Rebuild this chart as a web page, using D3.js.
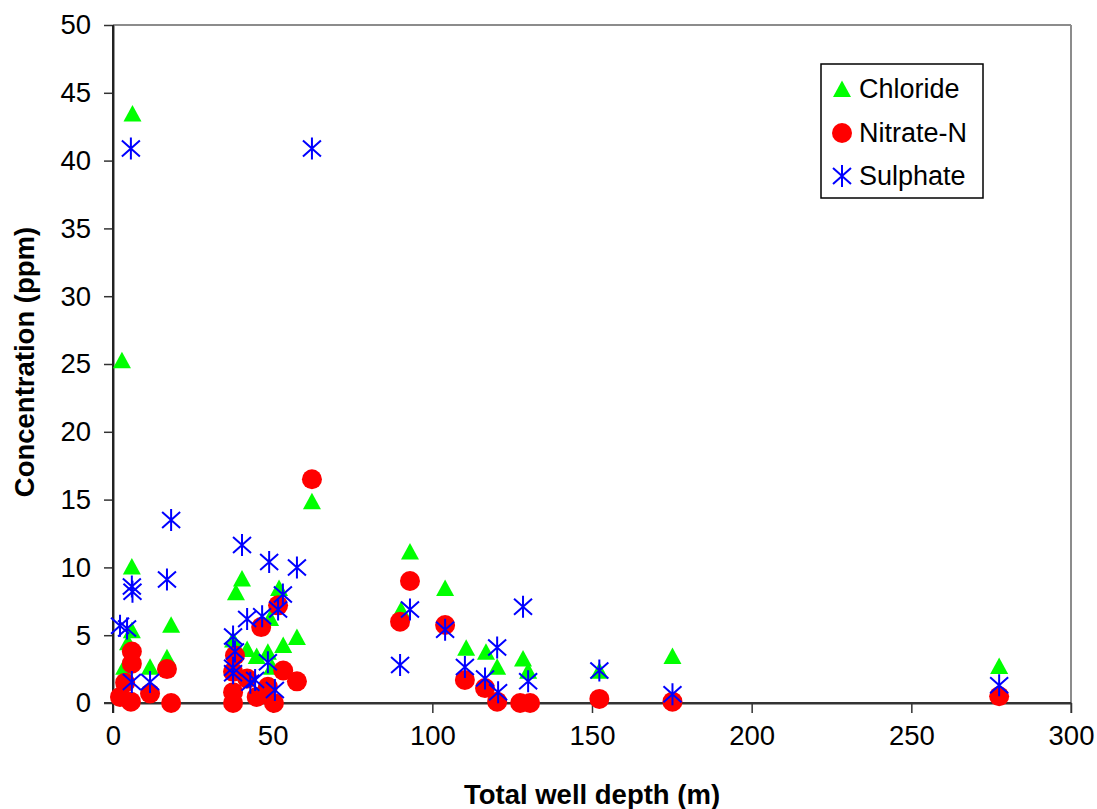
<!DOCTYPE html>
<html>
<head>
<meta charset="utf-8">
<script src="https://cdn.jsdelivr.net/npm/d3@7"></script>
<style>
  body { margin: 0; background: #fff; }
  svg { font-family: "Liberation Sans", Arial, sans-serif; }
</style>
</head>
<body>
<svg width="1097" height="809"></svg>
<script>
// Values: [depth (m), concentration (ppm)]
const chloride = [
  [2.8, 25.2], [6.1, 43.4], [5.9, 10.0], [5.9, 5.3], [4.7, 4.4], [3.5, 2.6],
  [11.6, 2.6], [18.2, 5.7], [16.9, 3.3], [40.4, 9.1], [38.5, 8.1], [37.6, 4.6],
  [42, 3.9], [45, 3.4], [48.5, 3.7], [49.8, 2.6], [52, 8.4], [49.2, 6.2],
  [53.3, 4.2], [57.6, 4.8], [62.3, 14.8], [93, 11.1], [90.2, 6.8], [104, 8.4],
  [110.6, 4.0], [116.8, 3.7], [120.3, 2.6], [128.4, 3.2], [130, 2.3],
  [152.3, 2.3], [175.2, 3.4], [277.5, 2.65]
];
const nitrate = [
  [62.3, 16.5], [5.9, 3.8], [5.9, 2.9], [3.8, 1.5], [2.2, 0.45], [5.6, 0.1],
  [11.6, 0.7], [16.9, 2.5], [18.2, 0], [38.2, 3.5], [37.6, 2.3], [37.6, 0.8],
  [37.6, 0], [42, 1.8], [45, 0.45], [48.5, 1.2], [50.4, 0], [46.4, 5.6],
  [51.7, 7.2], [53.3, 2.4], [57.6, 1.6], [93, 9.0], [89.9, 6.0], [104, 5.75],
  [110.2, 1.7], [116.5, 1.1], [120.3, 0.1], [127.5, 0], [130.6, 0],
  [152.3, 0.3], [175.2, 0.1], [277.5, 0.5]
];
const sulphate = [
  [5.6, 40.9], [62.3, 40.9], [5.9, 8.6], [6.1, 8.2], [16.9, 9.1], [18.2, 13.5],
  [2.2, 5.7], [4.4, 5.5], [5.9, 1.55], [11.6, 1.55], [40.4, 11.65], [48.9, 10.4],
  [57.6, 10.0], [53.2, 8.0], [51.7, 6.9], [46.7, 6.4], [42, 6.2], [37.6, 4.9],
  [38.2, 3.8], [37.6, 2.6], [37.6, 2.2], [48.5, 3.0], [44.5, 1.7], [43, 1.5],
  [50.7, 0.95], [93, 6.9], [89.9, 2.8], [104, 5.4], [110.2, 2.65], [120.3, 4.1],
  [116.5, 1.8], [120.6, 0.8], [128.4, 7.1], [130, 1.6], [152.3, 2.4],
  [175.2, 0.65], [277.5, 1.3]
];
const xTicks = [0, 50, 100, 150, 200, 250, 300];
const yTicks = [0, 5, 10, 15, 20, 25, 30, 35, 40, 45, 50];
const seriesNames = ["Chloride", "Nitrate-N", "Sulphate"];

const svg = d3.select("svg");
const plot = {left: 113, right: 1071, top: 25, bottom: 703};

const x = d3.scaleLinear().domain([0, 300]).range([plot.left, plot.right]);
const y = d3.scaleLinear().domain([0, 50]).range([plot.bottom, plot.top]);

// top and right frame (grey)
svg.append("line")
    .attr("x1", plot.left).attr("x2", plot.right)
    .attr("y1", plot.top).attr("y2", plot.top)
    .attr("stroke", "#8c8c8c").attr("stroke-width", 2);
svg.append("line")
    .attr("x1", plot.right).attr("x2", plot.right)
    .attr("y1", plot.top).attr("y2", plot.bottom + 10)
    .attr("stroke", "#8c8c8c").attr("stroke-width", 2);

// axes
const yAxis = svg.append("g")
    .attr("transform", `translate(${plot.left},0)`)
    .call(d3.axisLeft(y).tickValues(yTicks).tickSize(9).tickPadding(13).tickSizeOuter(0));
const xAxis = svg.append("g")
    .attr("transform", `translate(0,${plot.bottom})`)
    .call(d3.axisBottom(x).tickValues(xTicks).tickSize(10).tickPadding(12).tickSizeOuter(0));

[yAxis, xAxis].forEach(a => {
  a.select(".domain").attr("stroke", "#333").attr("stroke-width", 2);
  a.selectAll(".tick line").attr("stroke", "#333").attr("stroke-width", 1.5);
  a.selectAll(".tick text")
      .attr("font-family", "Liberation Sans, Arial, sans-serif")
      .attr("font-size", 27.5).attr("fill", "#000");
});
// left axis runs down past the x axis, bottom axis starts at the y tick
svg.append("line")
    .attr("x1", plot.left).attr("x2", plot.left)
    .attr("y1", plot.top).attr("y2", plot.bottom + 10)
    .attr("stroke", "#222").attr("stroke-width", 2);
svg.append("line")
    .attr("x1", plot.left - 9).attr("x2", plot.right)
    .attr("y1", plot.bottom).attr("y2", plot.bottom)
    .attr("stroke", "#333").attr("stroke-width", 2);

// axis titles
svg.append("text")
    .attr("x", 592).attr("y", 804)
    .attr("text-anchor", "middle")
    .attr("font-size", 27.5).attr("font-weight", "bold")
    .text("Total well depth (m)");
svg.append("text")
    .attr("transform", `translate(34,362) rotate(-90)`)
    .attr("text-anchor", "middle")
    .attr("font-size", 27.5).attr("font-weight", "bold")
    .text("Concentration (ppm)");

// marker shapes
const triPath = "M0,-9.5L9,7L-9,7Z";
const starPath = "M0,-11V11M-9,-8L9,8M-9,8L9,-8";

const g = svg.append("g");

g.selectAll("path.chloride")
  .data(chloride)
  .enter().append("path")
    .attr("class", "chloride")
    .attr("d", triPath)
    .attr("fill", "#00ff00")
    .attr("transform", d => `translate(${x(d[0])},${y(d[1])})`);

g.selectAll("circle.nitrate")
  .data(nitrate)
  .enter().append("circle")
    .attr("class", "nitrate")
    .attr("r", 10)
    .attr("fill", "#ff0000")
    .attr("cx", d => x(d[0]))
    .attr("cy", d => y(d[1]));

g.selectAll("path.sulphate")
  .data(sulphate)
  .enter().append("path")
    .attr("class", "sulphate")
    .attr("d", starPath)
    .attr("fill", "none")
    .attr("stroke", "#0000ff")
    .attr("stroke-width", 2)
    .attr("transform", d => `translate(${x(d[0])},${y(d[1])})`);

// legend
const legend = svg.append("g");
legend.append("rect")
    .attr("x", 821).attr("y", 64)
    .attr("width", 162).attr("height", 134)
    .attr("fill", "#fff").attr("stroke", "#000").attr("stroke-width", 1.5);

const rows = [89, 133, 176];
legend.append("path").attr("d", triPath).attr("fill", "#00ff00")
    .attr("transform", `translate(842,${rows[0] + 1})`);
legend.append("circle").attr("r", 10).attr("fill", "#ff0000")
    .attr("cx", 842).attr("cy", rows[1]);
legend.append("path").attr("d", starPath).attr("fill", "none")
    .attr("stroke", "#0000ff").attr("stroke-width", 2)
    .attr("transform", `translate(842,${rows[2]})`);

legend.selectAll("text.lab")
  .data(seriesNames)
  .enter().append("text")
    .attr("class", "lab")
    .attr("x", 859)
    .attr("y", (d, i) => rows[i] + 9)
    .attr("font-size", 27)
    .text(d => d);
</script>
</body>
</html>
